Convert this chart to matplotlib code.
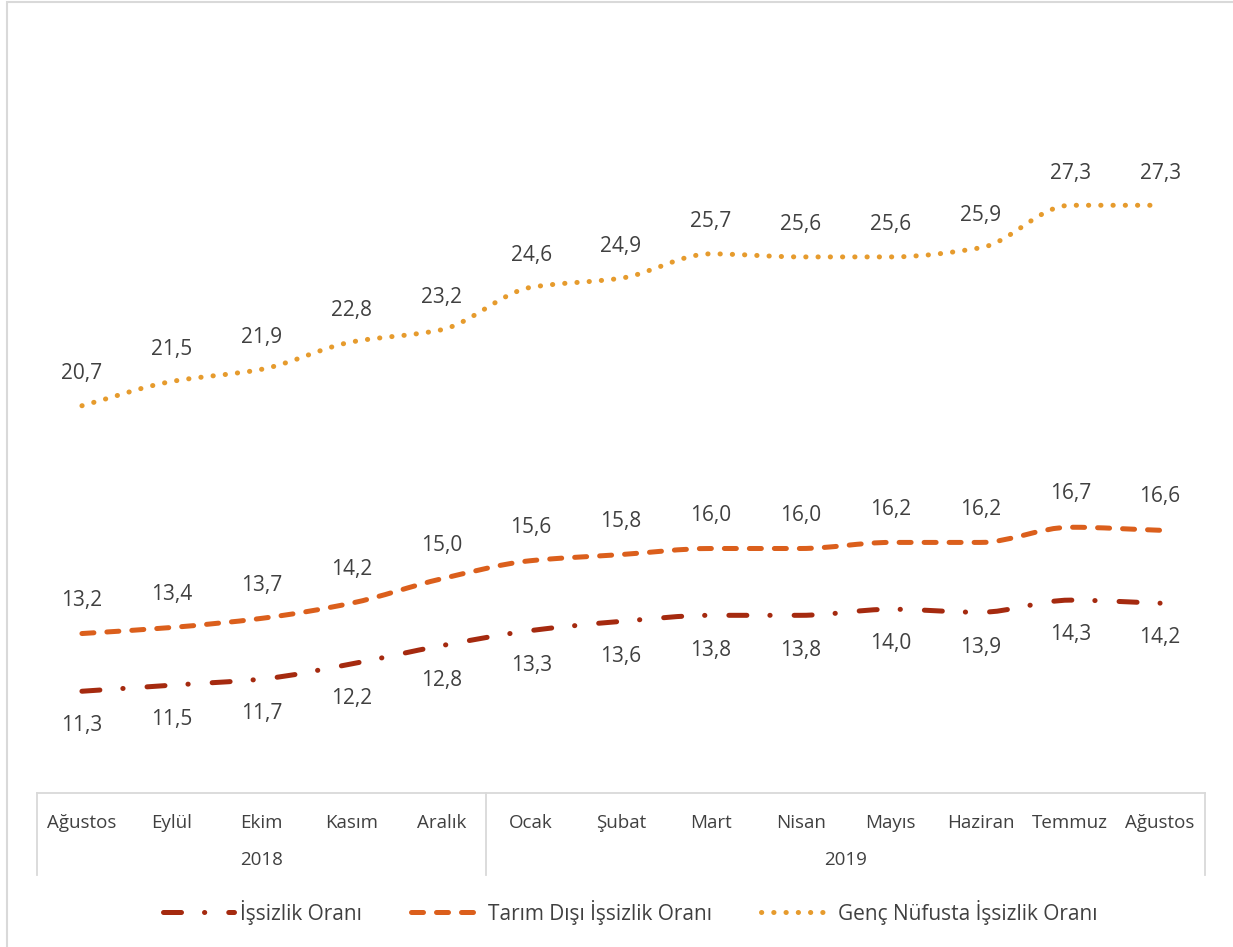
import numpy as np
import matplotlib
matplotlib.use("Agg")
import matplotlib.pyplot as plt
from matplotlib.path import Path
from matplotlib.patches import PathPatch, Rectangle
from matplotlib.lines import Line2D
import matplotlib.transforms as mtransforms

plt.rcParams['font.family'] = ['Open Sans', 'DejaVu Sans']

months = ['Ağustos', 'Eylül', 'Ekim', 'Kasım', 'Aralık', 'Ocak', 'Şubat',
          'Mart', 'Nisan', 'Mayıs', 'Haziran', 'Temmuz', 'Ağustos']
years = ['2018', '2019']
year_spans = [(0, 4), (5, 12)]

issizlik = [11.3, 11.5, 11.7, 12.2, 12.8, 13.3, 13.6, 13.8, 13.8, 14.0, 13.9, 14.3, 14.2]
tarim_disi = [13.2, 13.4, 13.7, 14.2, 15.0, 15.6, 15.8, 16.0, 16.0, 16.2, 16.2, 16.7, 16.6]
genc = [20.7, 21.5, 21.9, 22.8, 23.2, 24.6, 24.9, 25.7, 25.6, 25.6, 25.9, 27.3, 27.3]

names = ['İşsizlik Oranı', 'Tarım Dışı İşsizlik Oranı', 'Genç Nüfusta İşsizlik Oranı']
colors = ['#A52A0F', '#DB5F1C', '#E69B2D']
LW = 3.6
styles = [(0, (3.6, 4.6, 0.05, 4.8)), (0, (2.4, 2.6)), (0, (0.05, 2.4))]

text_col = '#404040'
grid_col = '#D9D9D9'


def smooth_path(xs, ys):
    # smoothed line drawn as cubic Beziers with monotone (Fritsch-Carlson) tangents
    xs = np.asarray(xs, float)
    ys = np.asarray(ys, float)
    h = np.diff(xs)
    d = np.diff(ys) / h
    n = len(xs)
    m = np.zeros(n)
    m[0], m[-1] = d[0], d[-1]
    for i in range(1, n - 1):
        if d[i - 1] * d[i] > 0:
            m[i] = 2.0 / (1.0 / d[i - 1] + 1.0 / d[i])
    verts = [(xs[0], ys[0])]
    codes = [Path.MOVETO]
    for i in range(n - 1):
        verts += [(xs[i] + h[i] / 3, ys[i] + m[i] * h[i] / 3),
                  (xs[i + 1] - h[i] / 3, ys[i + 1] - m[i + 1] * h[i] / 3),
                  (xs[i + 1], ys[i + 1])]
        codes += [Path.CURVE4] * 3
    return Path(verts, codes)


fig = plt.figure(figsize=(12.33, 9.47), dpi=100)
ax = fig.add_axes([37 / 1233, 154 / 947, 1168 / 1233, 773 / 947])

x = np.arange(len(months))
series = [issizlik, tarim_disi, genc]
for vals, col, ls in zip(series, colors, styles):
    patch = PathPatch(smooth_path(x, vals), fill=False, edgecolor=col,
                      linewidth=LW, linestyle=ls, capstyle='round', joinstyle='round')
    ax.add_patch(patch)


def fmt(v):
    return f'{v:.1f}'.replace('.', ',')


for i, v in enumerate(genc):
    ax.annotate(fmt(v), (i, v), xytext=(0, 23), textcoords='offset points',
                ha='center', va='center', fontsize=15, color=text_col)
for i, v in enumerate(tarim_disi):
    ax.annotate(fmt(v), (i, v), xytext=(0, 24), textcoords='offset points',
                ha='center', va='center', fontsize=15, color=text_col)
for i, v in enumerate(issizlik):
    ax.annotate(fmt(v), (i, v), xytext=(0, -25), textcoords='offset points',
                ha='center', va='center', fontsize=15, color=text_col)

ax.set_xlim(-0.5, 12.5)
ax.set_ylim(7.95, 33.4)
for s in ['top', 'right', 'left']:
    ax.spines[s].set_visible(False)
ax.spines['bottom'].set_color(grid_col)
ax.spines['bottom'].set_linewidth(1.3)
ax.set_yticks([])
ax.set_xticks(x)
ax.set_xticklabels(months, fontsize=13.5, color=text_col)
ax.tick_params(axis='x', length=0, pad=15)

# category box below the axis
trans = mtransforms.blended_transform_factory(ax.transData, ax.transAxes)
box_bottom = -82 / 773
for xv in [-0.5, 4.5, 12.5]:
    ax.plot([xv, xv], [0, box_bottom], transform=trans, color=grid_col,
            lw=1.3, clip_on=False)
for yr, (a, b) in zip(years, year_spans):
    ax.text((a + b) / 2, -67 / 773, yr, transform=trans, ha='center',
            va='center', fontsize=13.5, color=text_col)

handles = [Line2D([], [], color=c, lw=LW, linestyle=ls, dash_capstyle='round')
           for c, ls in zip(colors, styles)]
fig.legend(handles, names, loc='center', bbox_to_anchor=(630 / 1233, 1 - 912 / 947),
           ncol=3, frameon=False, fontsize=15, handlelength=3.4,
           handletextpad=0.3, columnspacing=2.35, labelcolor=text_col)

fig.patches.append(Rectangle((7 / 1233, -0.02), 1.1, 0.02 + 1 - 2 / 947,
                             transform=fig.transFigure, fill=False,
                             edgecolor=grid_col, lw=1.5))

fig.savefig('out.png', dpi=100)
